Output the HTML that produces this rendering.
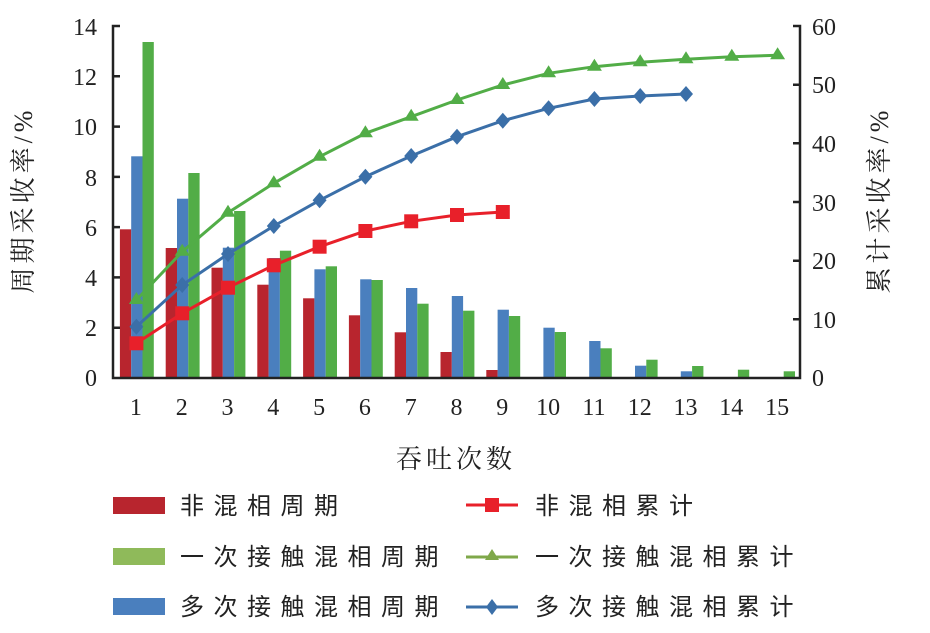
<!DOCTYPE html>
<html><head><meta charset="utf-8"><style>
html,body{margin:0;padding:0;background:#fff;}
svg{display:block;}
.t{font-family:"Liberation Serif","Noto Serif CJK SC",serif;font-size:24px;fill:#222;}
.c{font-family:"Liberation Sans","Noto Sans CJK SC",sans-serif;font-size:24px;fill:#222;letter-spacing:9.5px;}
</style></head><body>
<svg width="930" height="633" viewBox="0 0 930 633" xmlns="http://www.w3.org/2000/svg">
<g id="bars"></g>
<g id="lines"></g>
<g stroke="#222" stroke-width="2.5" fill="none">
<path d="M120,26 H113 V378 H800 V26 H793"/>
<path d="M113,76.3 h7 M113,126.6 h7 M113,176.9 h7 M113,227.1 h7 M113,277.4 h7 M113,327.7 h7"/>
<path d="M800,84.7 h-7 M800,143.3 h-7 M800,202 h-7 M800,260.7 h-7 M800,319.3 h-7"/>
</g>
<g class="t" text-anchor="end">
<text x="97" y="35">14</text><text x="97" y="85">12</text><text x="97" y="135">10</text>
<text x="97" y="186">8</text><text x="97" y="236">6</text><text x="97" y="286">4</text>
<text x="97" y="336">2</text><text x="97" y="386">0</text>
</g>
<g class="t" text-anchor="start">
<text x="812" y="35">60</text><text x="812" y="93">50</text><text x="812" y="152">40</text>
<text x="812" y="211">30</text><text x="812" y="269">20</text><text x="812" y="328">10</text><text x="812" y="386">0</text>
</g>
<g class="t" text-anchor="middle" id="xl"></g>
<text class="t" x="32" y="200" text-anchor="middle" transform="rotate(-90 32 200)" style="letter-spacing:4px;font-size:26px">周期采收率/%</text>
<text class="t" x="888" y="200" text-anchor="middle" transform="rotate(-90 888 200)" style="letter-spacing:4px;font-size:26px">累计采收率/%</text>
<text class="t" x="456" y="468" text-anchor="middle" style="letter-spacing:4px;font-size:26px">吞吐次数</text>
<rect x="113" y="497" width="52" height="17" fill="#b8252e"/>
<rect x="113" y="548" width="52" height="17" fill="#8fba5a"/>
<rect x="113" y="598" width="52" height="17" fill="#4a7fbe"/>
<text class="c" x="180" y="514">非混相周期</text>
<text class="c" x="180" y="565">一次接触混相周期</text>
<text class="c" x="180" y="615">多次接触混相周期</text>
<line x1="466" y1="505" x2="518" y2="505" stroke="#e8202a" stroke-width="3"/><rect x="485" y="498" width="14" height="14" fill="#e8202a"/>
<line x1="466" y1="557" x2="518" y2="557" stroke="#7fa84a" stroke-width="3"/><path d="M492,549 l7,11 h-14z" fill="#7fa84a"/>
<line x1="466" y1="607" x2="518" y2="607" stroke="#3b6fa8" stroke-width="3"/><path d="M492,599 l6,8 l-6,8 l-6,-8z" fill="#3b6fa8"/>
<text class="c" x="535" y="514">非混相累计</text>
<text class="c" x="535" y="565">一次接触混相累计</text>
<text class="c" x="535" y="615">多次接触混相累计</text>
<script>
(function(){
var ns="http://www.w3.org/2000/svg";
function cx(i){return 113+45.8*(i-0.5);}
var red=[229.3,248,267.7,284.7,298.3,315.3,332.3,352,370];
var blue=[156.3,198.7,247.7,258,269.3,279.3,288,296,309.7,327.7,341,365.7,371.3];
var green=[42,173,211,250.7,266.3,280,303.7,310.7,316,332,348.3,359.7,366,369.7,371.3];
var bg=document.getElementById('bars');
function bar(x,y,c){var r=document.createElementNS(ns,'rect');r.setAttribute('x',x);r.setAttribute('y',y);r.setAttribute('width',11.3);r.setAttribute('height',378-y);r.setAttribute('fill',c);bg.appendChild(r);}
red.forEach(function(y,k){bar(cx(k+1)-16,y,'#b8252e');});
blue.forEach(function(y,k){bar(cx(k+1)-4.7,y,'#4a7fbe');});
green.forEach(function(y,k){bar(cx(k+1)+6.6,y,'#52ad47');});
var lg=document.getElementById('lines');
function line(ys,c,m){var pts=ys.map(function(y,k){return [cx(k+1)+0.5,y];});
var p=document.createElementNS(ns,'polyline');p.setAttribute('points',pts.map(function(a){return a.join(',');}).join(' '));p.setAttribute('fill','none');p.setAttribute('stroke',c);p.setAttribute('stroke-width',3);lg.appendChild(p);
pts.forEach(function(a){var e=document.createElementNS(ns,'path');var x=a[0],y=a[1],d;
if(m=='s')d='M'+(x-7)+','+(y-7)+'h14v14h-14z';else if(m=='t')d='M'+x+','+(y-8)+'l7.5,12h-15z';else d='M'+x+','+(y-8)+'l7,8l-7,8l-7,-8z';
e.setAttribute('d',d);e.setAttribute('fill',c);lg.appendChild(e);});}
line([300,251.7,212.7,183.3,156.7,133.3,116.7,100,85,73.3,66.7,62.3,59.3,56.7,55.3],'#52ad47','t');
line([326.7,285,254,226,200.3,176.7,156,136.7,120.7,108.3,99,96,94],'#3b6fa8','d');
line([343.3,313.3,287.7,265.3,246.7,231,221.3,215,212],'#e8202a','s');
var xl=document.getElementById('xl');
for(var i=1;i<=15;i++){var t=document.createElementNS(ns,'text');t.setAttribute('x',cx(i));t.setAttribute('y',415);t.textContent=i;xl.appendChild(t);}
})();
</script>
</svg>
</body></html>
